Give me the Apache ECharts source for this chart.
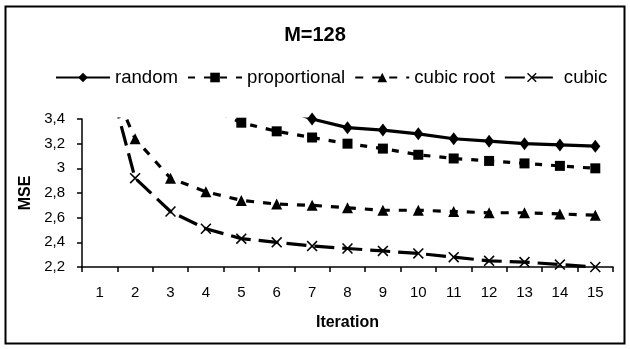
<!DOCTYPE html>
<html>
<head>
<meta charset="utf-8">
<script src="https://cdn.jsdelivr.net/npm/echarts@6/dist/echarts.min.js"></script>
<style>
  html, body { margin: 0; padding: 0; background: #fff; }
  #chart { width: 630px; height: 349px; }
</style>
</head>
<body>
<div id="chart"></div>
<script>
// Iteration numbers along the x axis
const iterations = ['1','2','3','4','5','6','7','8','9','10','11','12','13','14','15'];

// MSE per iteration for each allocation scheme (null = not reached in the plotted range)
const randomMSE       = [null, null, null, null, null, 3.50, 3.40, 3.33, 3.31, 3.28, 3.24, 3.22, 3.20, 3.19, 3.18];
const proportionalMSE = [null, null, null, 3.50, 3.37, 3.30, 3.25, 3.20, 3.16, 3.11, 3.08, 3.06, 3.04, 3.02, 3.00];
const cubicRootMSE    = [3.90, 3.24, 2.92, 2.81, 2.74, 2.71, 2.70, 2.68, 2.66, 2.66, 2.65, 2.64, 2.64, 2.63, 2.62];
const cubicMSE        = [4.00, 2.92, 2.65, 2.51, 2.43, 2.40, 2.37, 2.35, 2.33, 2.31, 2.28, 2.25, 2.24, 2.22, 2.20];

// Y axis range and tick step
const yMin = 2.2, yMax = 3.4, yStep = 0.2;

const FONT = '"Liberation Sans", Arial, sans-serif';
const crossPath = 'path://M0,1 L1,0 L5,4 L9,0 L10,1 L6,5 L10,9 L9,10 L5,6 L1,10 L0,9 L4,5 Z';

function lineSeries(name, data, symbol, size, dash) {
  return {
    name: name,
    type: 'line',
    data: data,
    clip: true,
    symbol: symbol,
    symbolSize: size,
    showAllSymbol: true,
    lineStyle: { color: '#000', width: 3.2, type: dash },
    itemStyle: { color: '#000', borderWidth: 0 },
    emphasis: { disabled: true },
    animation: false
  };
}

const chart = echarts.init(document.getElementById('chart'), null, { renderer: 'canvas' });
chart.setOption({
  backgroundColor: '#fff',
  animation: false,
  textStyle: { fontFamily: FONT, color: '#000' },
  title: {
    text: 'M=128',
    left: 'center',
    top: 20,
    textStyle: { fontFamily: FONT, fontSize: 20, fontWeight: 'bold', color: '#000' }
  },
  legend: {
    left: 50,
    top: 63,
    itemWidth: 54,
    itemHeight: 12,
    itemGap: 9,
    textStyle: { fontFamily: FONT, fontSize: 18.6, color: '#000' },
    data: ['random', 'proportional', 'cubic root', 'cubic']
  },
  grid: { left: 82, right: 17, top: 119, bottom: 82, containLabel: false },
  xAxis: {
    type: 'category',
    data: iterations,
    boundaryGap: true,
    name: 'Iteration',
    nameLocation: 'middle',
    nameGap: 48,
    nameTextStyle: { fontFamily: FONT, fontSize: 16, fontWeight: 'bold', color: '#000' },
    axisLine: { lineStyle: { color: '#000', width: 1.5 } },
    axisTick: { show: true, inside: false, length: 5, alignWithLabel: false, lineStyle: { color: '#000', width: 1.5 } },
    axisLabel: { fontFamily: FONT, fontSize: 15, color: '#000', margin: 18, interval: 0 },
    splitLine: { show: false }
  },
  yAxis: {
    type: 'value',
    min: yMin,
    max: yMax,
    interval: yStep,
    name: 'MSE',
    nameLocation: 'middle',
    nameGap: 43,
    nameTextStyle: { fontFamily: FONT, fontSize: 16, fontWeight: 'bold', color: '#000' },
    axisLine: { show: true, lineStyle: { color: '#000', width: 1.5 } },
    axisTick: { show: true, inside: false, length: 5, lineStyle: { color: '#000', width: 1.5 } },
    axisLabel: {
      fontFamily: FONT, fontSize: 15, color: '#000', margin: 17,
      formatter: function (v) { return String(+v.toFixed(1)).replace('.', ','); }
    },
    splitLine: { show: false }
  },
  graphic: [{
    type: 'rect',
    silent: true,
    shape: { x: 5.5, y: 6.5, width: 619, height: 337 },
    style: { fill: 'none', stroke: '#000', lineWidth: 2 }
  }],
  series: [
    lineSeries('random', randomMSE, 'diamond', [10, 13], 'solid'),
    lineSeries('proportional', proportionalMSE, 'rect', 10, [7, 9]),
    lineSeries('cubic root', cubicRootMSE, 'triangle', 11, [8, 9]),
    lineSeries('cubic', cubicMSE, crossPath, 11, [20, 8])
  ]
});
</script>
</body>
</html>
